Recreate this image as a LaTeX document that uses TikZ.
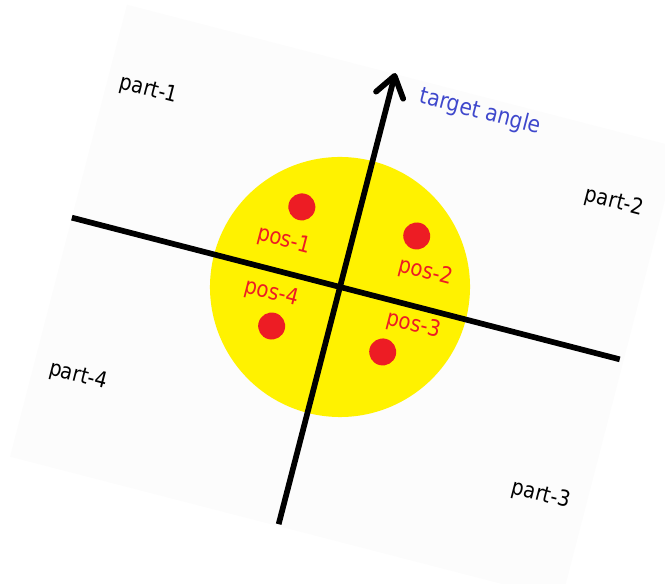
\documentclass[tikz,border=0pt]{standalone}
\usepackage{fontspec}
\setmainfont{DejaVu Sans}[FakeStretch=0.88]
\usetikzlibrary{arrows.meta}
\definecolor{paintyellow}{HTML}{FFF200}
\definecolor{paintred}{HTML}{ED1C24}
\definecolor{paintblue}{HTML}{3F48CC}
\definecolor{paper}{RGB}{252,252,252}
\begin{document}
\begin{tikzpicture}[x=1pt,y=1pt,
  axis/.style={line width=5.7pt},
  dot/.style={circle,fill=paintred,minimum size=27pt,inner sep=0pt},
  poslabel/.style={text=paintred,font=\fontsize{22.5}{26}\selectfont,inner sep=0pt},
  partlabel/.style={text=black,font=\fontsize{22}{26}\selectfont,inner sep=0pt},
  anglelabel/.style={text=paintblue,font=\fontsize{23}{26}\selectfont,inner sep=0pt},
]
\useasboundingbox (0,0) rectangle (665,584);
\clip (0,0) rectangle (665,584);
\begin{scope}[shift={(340,297)},rotate=-14.5,transform shape]
  \fill[paper] (-277,-247) rectangle (293,220);
  \node[circle,fill=paintyellow,minimum size=260pt,inner sep=0pt] (disc) at (0,0) {};
  \node[dot] (d1) at (-57,68) {};
  \node[dot] (d2) at (61.5,68.6) {};
  \node[dot] (d3) at (57.6,-52.2) {};
  \node[dot] (d4) at (-56.4,-54.9) {};
  \node[poslabel] (p1) at (-65.8,30.8) {pos-1};
  \node[poslabel] (p2) at (79.3,35.6) {pos-2};
  \node[poslabel] (p3) at (80.5,-18.5) {pos-3};
  \node[poslabel] (p4) at (-64.5,-23.2) {pos-4};
  \coordinate (hl) at (-277,0);
  \coordinate (hr) at (289,0);
  \coordinate (vb) at (0,-245);
  \coordinate (vt) at (0,221);
  \draw[axis] (hl) -- (hr);
  \draw[axis,-{Straight Barb[length=20pt,width=28pt,round]}] (vb) -- (vt);
  \node[partlabel] (q1) at (-234.6,142.8) {part-1};
  \node[partlabel] (q2) at (244,150.8) {part-2};
  \node[partlabel] (q3) at (246.6,-151) {part-3};
  \node[partlabel] (q4) at (-231.4,-151.7) {part-4};
  \node[anglelabel] (ta) at (91.8,204.4) {target angle};
\end{scope}
\end{tikzpicture}
\end{document}
